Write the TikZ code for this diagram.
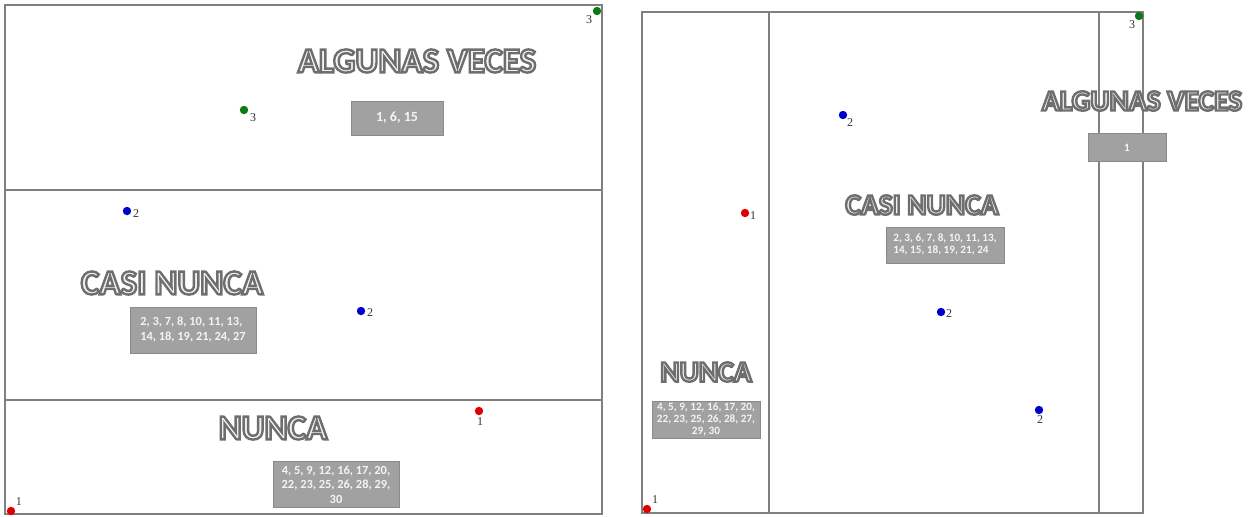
\documentclass[tikz,border=0pt]{standalone}
\usepackage{fontspec}
\setmainfont{Carlito}
\newfontfamily\numfont{Liberation Serif}
\definecolor{panelgray}{HTML}{808080}
\definecolor{boxfill}{HTML}{A1A1A1}
\definecolor{boxedge}{HTML}{8A8A8A}
\definecolor{boxtext}{HTML}{F4F4F4}
\definecolor{dotgreen}{HTML}{0B7A12}
\definecolor{dotblue}{HTML}{0000CC}
\definecolor{dotred}{HTML}{E00000}
\definecolor{numcol}{HTML}{333333}
% outlined (WordArt-like) text: gray outline, light inside (one copy of the text)
\newcommand\wart[1]{%
  \leavevmode\special{pdf:literal 2 Tr 1.2 w 0.43 0.43 0.43 RG 0.95 0.95 0.95 rg}#1%
  \special{pdf:literal 0 Tr 0.4 w 0 0 0 RG 0 0 0 rg}}
\tikzset{
  panel/.style={draw=panelgray, line width=0.9pt},
  bigtitle/.style={inner sep=0pt, font=\fontsize{17.5}{19}\selectfont\bfseries},
  smalltitle/.style={inner sep=0pt, font=\fontsize{14.7}{16}\selectfont\bfseries},
  numbox/.style={fill=boxfill, draw=boxedge, line width=0.5pt, text=boxtext, inner sep=0pt, align=center},
  bigbox/.style={numbox, font=\fontsize{6.2}{7.3}\selectfont\bfseries},
  smallbox/.style={numbox, font=\fontsize{5.6}{6}\selectfont\bfseries},
  dot/.style={circle, inner sep=0pt, minimum size=4.2pt},
  gdot/.style={dot, fill=dotgreen},
  bdot/.style={dot, fill=dotblue},
  rdot/.style={dot, fill=dotred},
  num/.style={inner sep=0pt, text=numcol, font=\numfont\fontsize{6}{6}\selectfont}
}
\begin{document}
\begin{tikzpicture}[x=0.5pt, y=-0.5pt]
\useasboundingbox (0,0) rectangle (1252,516);
% ---------- left panel ----------
\coordinate (L1) at (5,5);
\coordinate (L2) at (602,514);
\draw[panel] (L1) rectangle (L2);
\coordinate (La) at (5,190); \coordinate (Lb) at (602,190);
\coordinate (Lc) at (5,400); \coordinate (Ld) at (602,400);
\draw[panel] (La) -- (Lb);
\draw[panel] (Lc) -- (Ld);

\node[bigtitle] (tAL) at (417,61) {\wart{ALGUNAS VECES}};
\node[bigbox, minimum width=46pt, minimum height=17pt, font=\fontsize{7}{8}\selectfont\bfseries] (bAL) at (397,118) {1, 6, 15};
\node[gdot] (gL1) at (597,11) {};
\node[num] (ngL1) at (589,20) {3};
\node[gdot] (gL2) at (244,110) {};
\node[num] (ngL2) at (253,118) {3};

\node[bigtitle] (tCL) at (172,283) {\wart{CASI NUNCA}};
\node[bigbox, minimum width=63pt, minimum height=23pt] (bCL) at (193,330) {\begin{tabular}{@{}l@{}}2, 3, 7, 8, 10, 11, 13,\\14, 18, 19, 21, 24, 27\end{tabular}};
\node[bdot] (bL1) at (127,211) {};
\node[num] (nbL1) at (136,214) {2};
\node[bdot] (bL2) at (361,311) {};
\node[num] (nbL2) at (370,313) {2};

\node[bigtitle] (tNL) at (273,428) {\wart{NUNCA}};
\node[bigbox, minimum width=63pt, minimum height=23pt] (bNL) at (336,484.5) {4, 5, 9, 12, 16, 17, 20,\\22, 23, 25, 26, 28, 29,\\30};
\node[rdot] (rL1) at (479,411) {};
\node[num] (nrL1) at (480,422) {1};
\node[rdot] (rL2) at (11,511) {};
\node[num] (nrL2) at (19,502) {1};

% ---------- right panel ----------
\coordinate (R1) at (642,12);
\coordinate (R2) at (1143,513);
\draw[panel] (R1) rectangle (R2);
\coordinate (Ra) at (769,12); \coordinate (Rb) at (769,513);
\coordinate (Rc) at (1099,12); \coordinate (Rd) at (1099,513);
\draw[panel] (Ra) -- (Rb);
\draw[panel] (Rc) -- (Rd);

\node[smalltitle] (tAR) at (1142,101) {\wart{ALGUNAS VECES}};
\node[smallbox, minimum width=39pt, minimum height=14pt] (bAR) at (1127,147.5) {1};
\node[gdot] (gR1) at (1139,16) {};
\node[num] (ngR1) at (1132,25) {3};

\node[smalltitle] (tCR) at (922,205) {\wart{CASI NUNCA}};
\node[smallbox, minimum width=59pt, minimum height=18pt] (bCR) at (945,245) {\begin{tabular}{@{}l@{}}2, 3, 6, 7, 8, 10, 11, 13,\\14, 15, 18, 19, 21, 24\end{tabular}};
\node[bdot] (bR1) at (843,115) {};
\node[num] (nbR1) at (850,123) {2};
\node[rdot] (rR1) at (745,213) {};
\node[num] (nrR1) at (753,216) {1};
\node[bdot] (bR2) at (941,312) {};
\node[num] (nbR2) at (949,314) {2};
\node[bdot] (bR3) at (1039,410) {};
\node[num] (nbR3) at (1040,420) {2};

\node[smalltitle] (tNR) at (706,372) {\wart{NUNCA}};
\node[smallbox, minimum width=54pt, minimum height=18.5pt] (bNR) at (706,419.5) {4, 5, 9, 12, 16, 17, 20,\\22, 23, 25, 26, 28, 27,\\29, 30};
\node[rdot] (rR2) at (647,509) {};
\node[num] (nrR2) at (655,500) {1};
\end{tikzpicture}
\end{document}
